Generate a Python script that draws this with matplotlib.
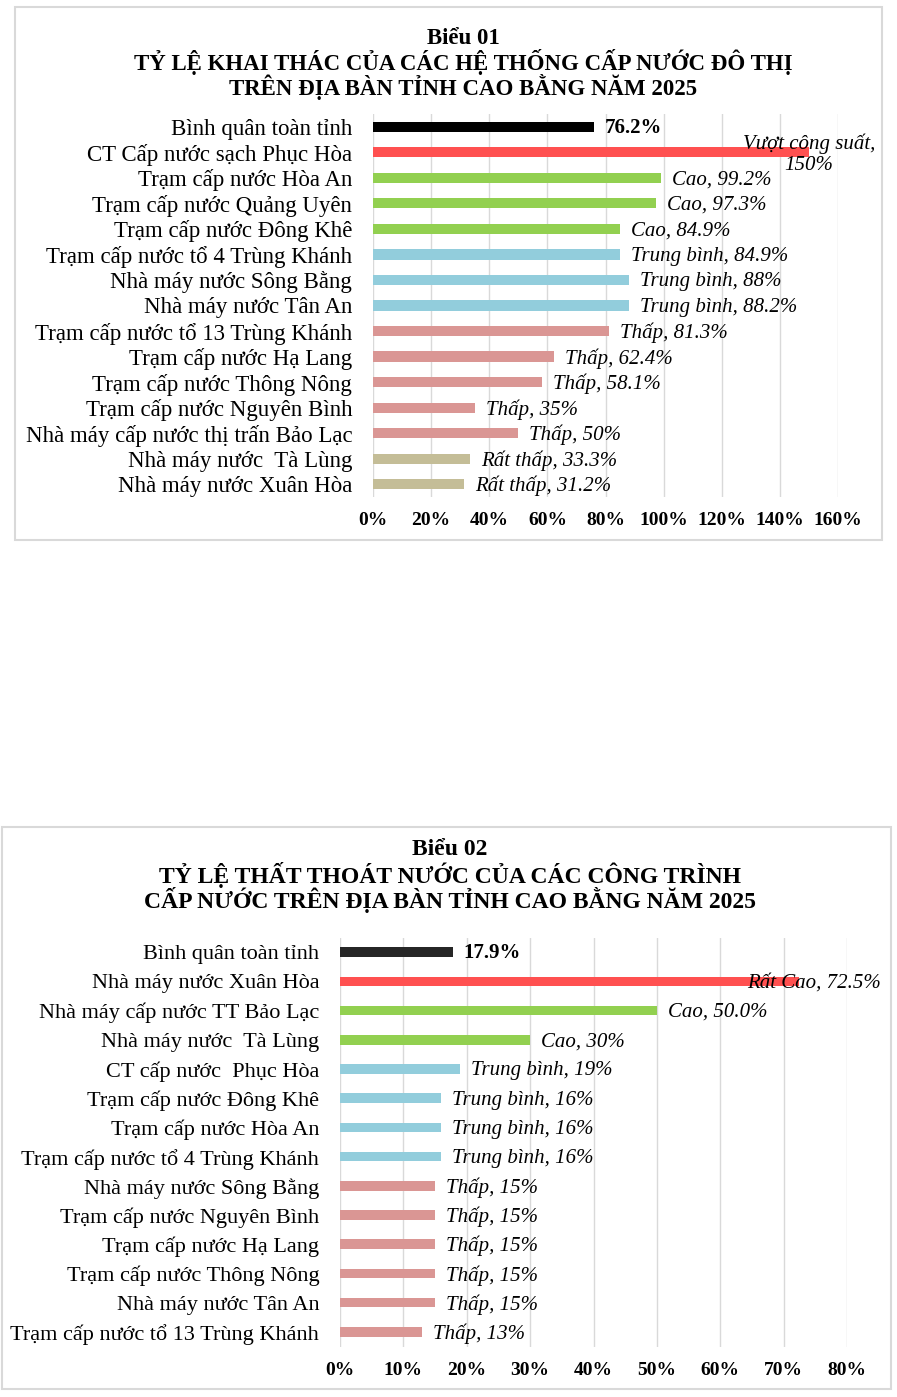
"""Two Excel-style horizontal bar charts: exploitation rate and water loss rate
of water supply systems in Cao Bang province, 2025."""

import matplotlib

matplotlib.use("Agg")
import matplotlib.pyplot as plt
from matplotlib.patches import Rectangle

# ---------------------------------------------------------------------------
# Data
# ---------------------------------------------------------------------------
USE_TITLE = ["Biểu 01",
             "TỶ LỆ KHAI THÁC CỦA CÁC HỆ THỐNG CẤP NƯỚC ĐÔ THỊ",
             "TRÊN ĐỊA BÀN TỈNH CAO BẰNG NĂM 2025"]
USE_CATEGORIES = [
    "Bình quân toàn tỉnh",
    "CT Cấp nước sạch Phục Hòa",
    "Trạm cấp nước Hòa An",
    "Trạm cấp nước Quảng Uyên",
    "Trạm cấp nước Đông Khê",
    "Trạm cấp nước tổ 4 Trùng Khánh",
    "Nhà máy nước Sông Bằng",
    "Nhà máy nước Tân An",
    "Trạm cấp nước tổ 13 Trùng Khánh",
    "Trạm cấp nước Hạ Lang",
    "Trạm cấp nước Thông Nông",
    "Trạm cấp nước Nguyên Bình",
    "Nhà máy cấp nước thị trấn Bảo Lạc",
    "Nhà máy nước  Tà Lùng",
    "Nhà máy nước Xuân Hòa",
]
USE_VALUES = [76.2, 150, 99.2, 97.3, 84.9, 84.9, 88, 88.2, 81.3, 62.4, 58.1, 35, 50, 33.3, 31.2]
USE_LABELS = [
    "76.2%", "Vượt công suất,\n150%", "Cao, 99.2%", "Cao, 97.3%", "Cao, 84.9%",
    "Trung bình, 84.9%", "Trung bình, 88%", "Trung bình, 88.2%", "Thấp, 81.3%",
    "Thấp, 62.4%", "Thấp, 58.1%", "Thấp, 35%", "Thấp, 50%", "Rất thấp, 33.3%",
    "Rất thấp, 31.2%",
]
USE_LEVELS = ["avg", "over", "high", "high", "high", "mid", "mid", "mid",
              "low", "low", "low", "low", "low", "vlow", "vlow"]
USE_TICKS = [0, 20, 40, 60, 80, 100, 120, 140, 160]

LOSS_TITLE = ["Biểu 02",
              "TỶ LỆ THẤT THOÁT NƯỚC CỦA CÁC CÔNG TRÌNH",
              "CẤP NƯỚC TRÊN ĐỊA BÀN TỈNH CAO BẰNG NĂM 2025"]
LOSS_CATEGORIES = [
    "Bình quân toàn tỉnh",
    "Nhà máy nước Xuân Hòa",
    "Nhà máy cấp nước TT Bảo Lạc",
    "Nhà máy nước  Tà Lùng",
    "CT cấp nước  Phục Hòa",
    "Trạm cấp nước Đông Khê",
    "Trạm cấp nước Hòa An",
    "Trạm cấp nước tổ 4 Trùng Khánh",
    "Nhà máy nước Sông Bằng",
    "Trạm cấp nước Nguyên Bình",
    "Trạm cấp nước Hạ Lang",
    "Trạm cấp nước Thông Nông",
    "Nhà máy nước Tân An",
    "Trạm cấp nước tổ 13 Trùng Khánh",
]
LOSS_VALUES = [17.9, 72.5, 50.0, 30, 19, 16, 16, 16, 15, 15, 15, 15, 15, 13]
LOSS_LABELS = [
    "17.9%", "Rất Cao, 72.5%", "Cao, 50.0%", "Cao, 30%", "Trung bình, 19%",
    "Trung bình, 16%", "Trung bình, 16%", "Trung bình, 16%", "Thấp, 15%",
    "Thấp, 15%", "Thấp, 15%", "Thấp, 15%", "Thấp, 15%", "Thấp, 13%",
]
LOSS_LEVELS = ["avg2", "over", "high", "high", "mid", "mid", "mid", "mid",
               "low", "low", "low", "low", "low", "low"]
LOSS_TICKS = [0, 10, 20, 30, 40, 50, 60, 70, 80]

# ---------------------------------------------------------------------------
# Style
# ---------------------------------------------------------------------------
W, H = 897, 1397
FONT = "Liberation Serif"
LEVEL_COLORS = {
    "avg": "#000000",
    "avg2": "#262626",
    "over": "#FF5050",
    "high": "#92D050",
    "mid": "#92CDDC",
    "low": "#DA9694",
    "vlow": "#C4BD97",
}
GRID_COLOR = "#D9D9D9"
BOX_COLOR = "#D9D9D9"


def px_rect(left, top, right, bottom):
    """Pixel box (origin top-left) -> figure fraction [x, y, w, h]."""
    return [left / W, 1 - bottom / H, (right - left) / W, (bottom - top) / H]


def draw_box(fig, left, top, right, bottom):
    x, y, w, h = px_rect(left, top, right, bottom)
    fig.patches.append(Rectangle((x, y), w, h, transform=fig.transFigure,
                                 facecolor="none", edgecolor=BOX_COLOR,
                                 linewidth=1.5, zorder=-1))


def draw_title(fig, lines, cx, ys, size):
    for text, y in zip(lines, ys):
        fig.text(cx / W, 1 - y / H, text, ha="center", va="center",
                 fontsize=size, fontweight="bold", family=FONT)


def draw_chart(ax, categories, values, labels, levels, ticks, bar_h, cat_size, special):
    n = len(categories)
    ypos = list(range(n))
    colors = [LEVEL_COLORS[lv] for lv in levels]
    ax.set_facecolor("none")
    ax.barh(ypos, values, height=bar_h, color=colors, zorder=2)
    ax.set_ylim(n - 0.5, -0.5)
    ax.set_xlim(ticks[0], ticks[-1])
    ax.set_xticks(ticks)
    ax.set_xticklabels([f"{t}%" for t in ticks], fontsize=14, fontweight="bold",
                       family=FONT)
    ax.set_yticks(ypos)
    ax.set_yticklabels(categories, fontsize=cat_size, family=FONT)
    ax.tick_params(axis="both", length=0)
    ax.tick_params(axis="x", pad=11)
    ax.tick_params(axis="y", pad=15)
    ax.grid(axis="x", color=GRID_COLOR, linewidth=1, zorder=0)
    ax.set_axisbelow(True)
    for side in ax.spines.values():
        side.set_visible(False)

    for i, (v, lab, lv) in enumerate(zip(values, labels, levels)):
        if lv.startswith("avg"):
            ax.annotate(lab, (v, i), xytext=(10, -1), textcoords="offset pixels",
                        ha="left", va="center", fontsize=15, fontweight="bold",
                        family=FONT, zorder=3)
        elif i in special:
            dx, ha = special[i]
            ax.annotate(lab, (v, i), xytext=(dx, -2), textcoords="offset pixels",
                        ha=ha, va="center", fontsize=15, style="italic",
                        family=FONT, linespacing=1.1, zorder=3)
        else:
            ax.annotate(lab, (v, i), xytext=(11, -2), textcoords="offset pixels",
                        ha="left", va="center", fontsize=15, style="italic",
                        family=FONT, zorder=3)


def main():
    fig = plt.figure(figsize=(W / 100, H / 100), dpi=100)
    fig.patch.set_facecolor("white")

    # Chart 1: exploitation rate
    draw_box(fig, 15, 7, 882, 540)
    draw_title(fig, USE_TITLE, 463, [38, 62, 87], 16.5)
    ax1 = fig.add_axes(px_rect(373, 114, 838, 497))
    draw_chart(ax1, USE_CATEGORIES, USE_VALUES, USE_LABELS, USE_LEVELS,
               USE_TICKS, 0.4, 16.5, {1: (0, "center")})

    # Chart 2: water loss rate
    draw_box(fig, 2, 827, 891, 1389)
    draw_title(fig, LOSS_TITLE, 450, [850, 875, 900], 17)
    ax2 = fig.add_axes(px_rect(340, 937.5, 847, 1346.5))
    draw_chart(ax2, LOSS_CATEGORIES, LOSS_VALUES, LOSS_LABELS, LOSS_LEVELS,
               LOSS_TICKS, 0.33, 16, {1: (-52, "left")})

    fig.savefig("out.png", dpi=100, facecolor="white")
    plt.close(fig)


if __name__ == "__main__":
    main()
